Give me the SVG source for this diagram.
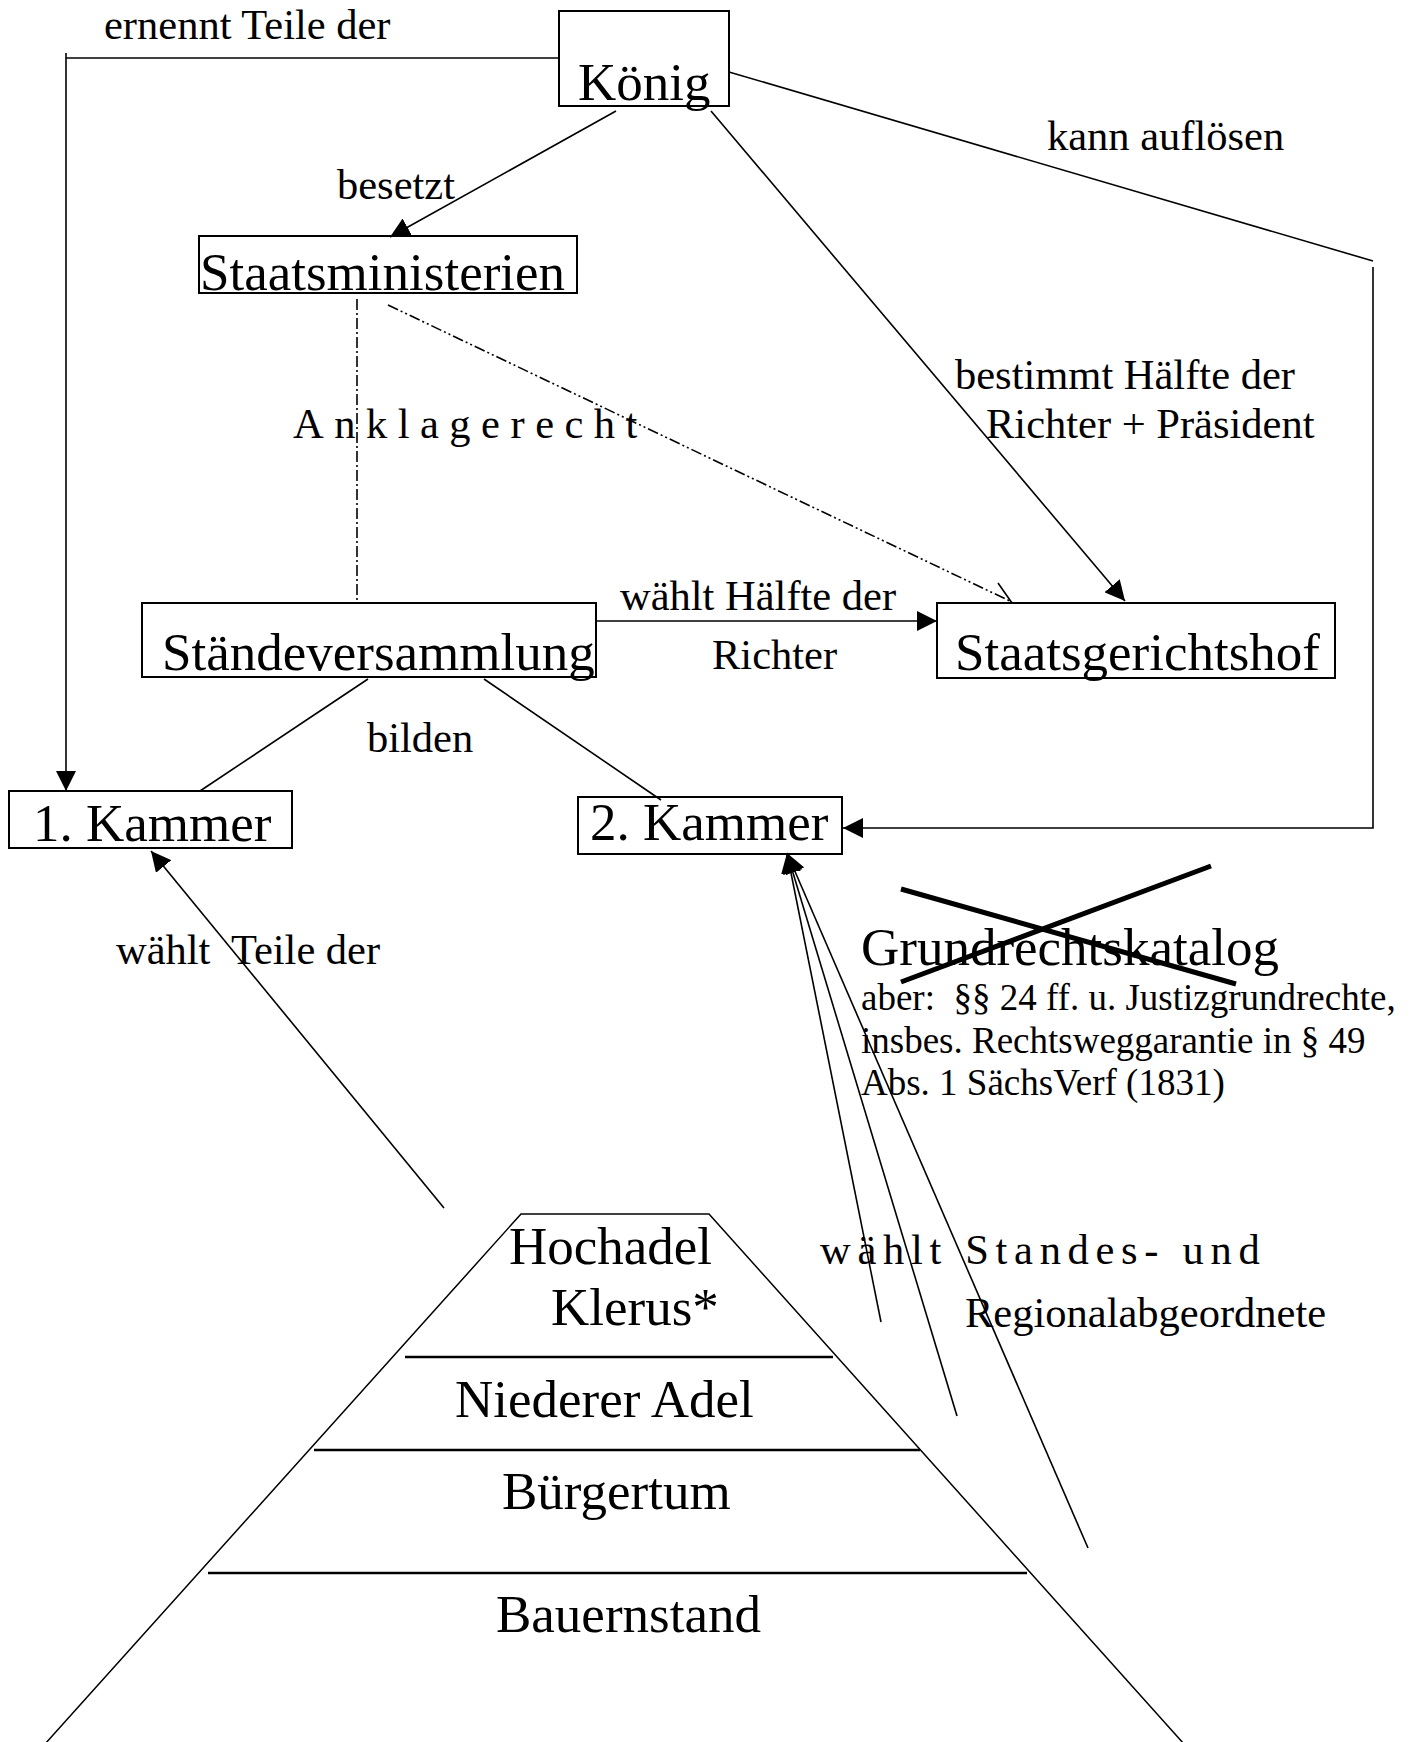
<svg xmlns="http://www.w3.org/2000/svg" width="1417" height="1742" viewBox="0 0 1417 1742">
<style>
text{font-family:"Liberation Serif","Times New Roman",serif;fill:#000;white-space:pre}
.big{font-size:53px}
.lbl{font-size:42.5px}
.small{font-size:37px}
.box{fill:none;stroke:#000;stroke-width:2}
.ln{fill:none;stroke:#000;stroke-width:1.6}
.dd{fill:none;stroke:#000;stroke-width:1.6;stroke-dasharray:11 3 2 3 2 3}
.dv{fill:none;stroke:#000;stroke-width:1.6;stroke-dasharray:11 3 2 3}
.pl{fill:none;stroke:#000;stroke-width:1.5}
.div{fill:none;stroke:#000;stroke-width:2.6}
.x{fill:none;stroke:#000;stroke-width:5}
</style>
<defs>
<marker id="arr" viewBox="0 0 20 20" refX="20" refY="10" markerWidth="20" markerHeight="20" orient="auto" markerUnits="userSpaceOnUse">
<path d="M0,0 L20,10 L0,20 z" fill="#000"/>
</marker>
</defs>
<rect width="1417" height="1742" fill="#fff"/>
<g id="connectors">
<path class="ln" d="M559,58 H66"/>
<path class="ln" d="M66,53 V791" marker-end="url(#arr)"/>
<path class="ln" d="M616,111 L390,237" marker-end="url(#arr)"/>
<path class="ln" d="M711,111 L1125,601" marker-end="url(#arr)"/>
<path class="ln" d="M729,72 L1373,261"/>
<path class="ln" d="M1373,267 V828 H843" marker-end="url(#arr)"/>
<path class="dv" d="M357,299 V602"/>
<path class="dd" d="M388,305 L1012,602"/>
<path class="ln" d="M1012,603 L998,583 M1012,603 L990,603"/>
<path class="ln" d="M596,621 H937" marker-end="url(#arr)"/>
<path class="ln" d="M368,679 L200,791"/>
<path class="ln" d="M484,679 L661,800"/>
<path class="ln" d="M444,1208 L151,851" marker-end="url(#arr)"/>
<path class="ln" d="M881,1322 L787,853" marker-end="url(#arr)"/>
<path class="ln" d="M957,1416 L787,853" marker-end="url(#arr)"/>
<path class="ln" d="M1088,1548 L787,853" marker-end="url(#arr)"/>
</g>
<g id="koenig">
<rect class="box" x="559" y="11" width="170" height="95"/>
<text class="big" x="578" y="100">König</text>
</g>
<g id="staatsministerien">
<rect class="box" x="199" y="236" width="378" height="57"/>
<text class="big" x="200" y="290">Staatsministerien</text>
</g>
<g id="staendeversammlung">
<rect class="box" x="142" y="603" width="454" height="74"/>
<text class="big" x="162" y="670">Ständeversammlung</text>
</g>
<g id="staatsgerichtshof">
<rect class="box" x="937" y="603" width="398" height="75"/>
<text class="big" x="955" y="670">Staatsgerichtshof</text>
</g>
<g id="kammer1">
<rect class="box" x="9" y="791" width="283" height="57"/>
<text class="big" x="33" y="841">1. Kammer</text>
</g>
<g id="kammer2">
<rect class="box" x="578" y="797" width="264" height="57"/>
<text class="big" x="590" y="840">2. Kammer</text>
</g>
<g id="labels">
<text class="lbl" x="104" y="39">ernennt Teile der</text>
<text class="lbl" x="337" y="199">besetzt</text>
<text class="lbl" x="1047" y="150">kann auflösen</text>
<text class="lbl" x="955" y="389">bestimmt Hälfte der</text>
<text class="lbl" x="986" y="438">Richter + Präsident</text>
<text class="lbl" x="293" y="438" letter-spacing="10.5">Anklagerecht</text>
<text class="lbl" x="620" y="610">wählt Hälfte der</text>
<text class="lbl" x="712" y="669">Richter</text>
<text class="lbl" x="367" y="752">bilden</text>
<text class="lbl" x="116" y="964">wählt  Teile der</text>
<text class="lbl" x="820" y="1264" letter-spacing="6.7">wählt Standes- und</text>
<text class="lbl" x="965" y="1327">Regionalabgeordnete</text>
</g>
<g id="grundrechtskatalog">
<text class="big" x="861" y="965">Grundrechtskatalog</text>
<path class="x" d="M901,889 L1236,984 M901,982 L1211,866"/>
<text class="small" x="861" y="1010">aber:  §§ 24 ff. u. Justizgrundrechte,</text>
<text class="small" x="861" y="1053">insbes. Rechtsweggarantie in § 49</text>
<text class="small" x="861" y="1095">Abs. 1 SächsVerf (1831)</text>
</g>
<g id="pyramide">
<path class="pl" d="M45,1744 L521,1214 H709 L1184,1744"/>
<path class="div" d="M405,1357 H833 M314,1450 H920 M208,1573 H1027"/>
<text class="big" x="509" y="1264">Hochadel</text>
<text class="big" x="551" y="1325">Klerus*</text>
<text class="big" x="455" y="1417">Niederer Adel</text>
<text class="big" x="502" y="1509">Bürgertum</text>
<text class="big" x="496" y="1632">Bauernstand</text>
</g>
</svg>
